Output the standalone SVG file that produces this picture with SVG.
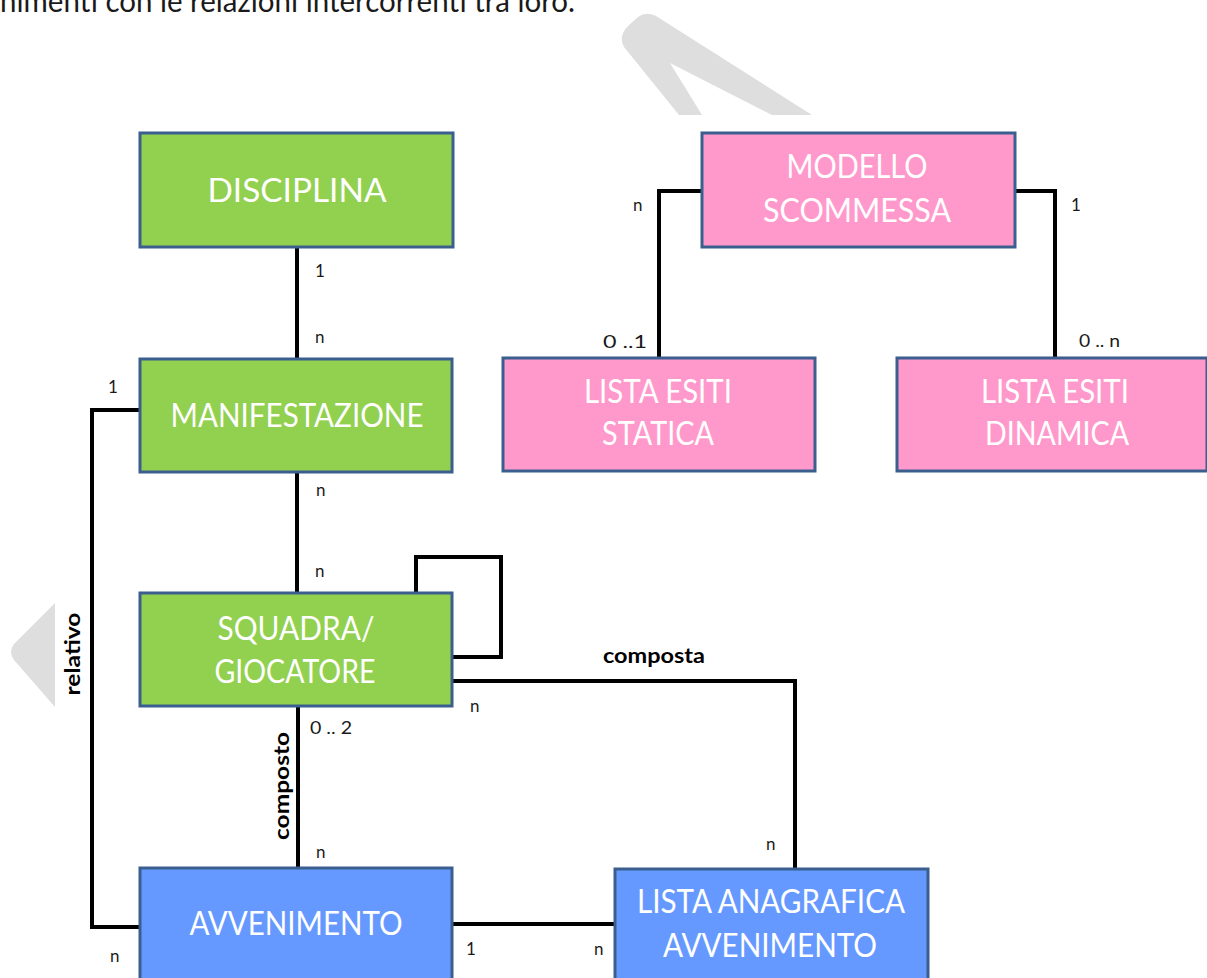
<svg xmlns="http://www.w3.org/2000/svg" width="1207" height="978" viewBox="0 0 1207 978">
<style>
.box{stroke:#3a5f8f;stroke-width:3}
.g{fill:#92d050}
.p{fill:#ff99cc}
.b{fill:#6699ff}
.bt{font-family:Lato,"Open Sans","Liberation Sans",sans-serif;font-size:32px;fill:#ffffff;text-anchor:middle}
.lb{font-family:Lato,"Open Sans","Liberation Sans",sans-serif;font-size:17px;fill:#1a1a1a}
.rl{font-family:Lato,"Open Sans","Liberation Sans",sans-serif;font-size:20px;font-weight:bold;fill:#000000;text-anchor:middle}
.wm{fill:#dedede}
.cn{fill:none;stroke:#000000;stroke-width:4;stroke-linejoin:miter}
.top{font-family:Lato,"Open Sans","Liberation Sans",sans-serif;font-size:31px;fill:#1a1a1a}
</style>
<rect width="1207" height="978" fill="#ffffff"/>
<g id="watermark">
<path class="wm" d="M679,115 L624,47 Q618,36 628,26 L638,17 Q646,11 656,16 L812,115 L772,115 L670,63 L702,115 Z"/>
<path class="wm" d="M55,603 L14,644 Q8,652 14,660 L55,707 Z"/>
</g>
<text class="top" x="0" y="12" textLength="575" lengthAdjust="spacingAndGlyphs">nimenti con le relazioni intercorrenti tra loro.</text>
<g id="connectors">
<path class="cn" d="M297,247 V359"/>
<path class="cn" d="M297,472 V593"/>
<path class="cn" d="M298,706 V868"/>
<path class="cn" d="M140,410 H92 V927 H140"/>
<path class="cn" d="M416,593 V557 H501 V657 H452"/>
<path class="cn" d="M452,681 H795 V869"/>
<path class="cn" d="M452,924 H615"/>
<path class="cn" d="M702,191 H659 V358"/>
<path class="cn" d="M1015,191 H1055 V358"/>
<text class="lb" x="315" y="277">1</text>
<text class="lb" x="315" y="343">n</text>
<text class="lb" x="316" y="496">n</text>
<text class="lb" x="108" y="393">1</text>
<text class="lb" x="315" y="577">n</text>
<text class="lb" x="310" y="734" textLength="42" lengthAdjust="spacingAndGlyphs">0 .. 2</text>
<text class="lb" x="470" y="712">n</text>
<text class="rl" x="654" y="663" textLength="102" lengthAdjust="spacingAndGlyphs">composta</text>
<text class="lb" x="316" y="858">n</text>
<text class="lb" x="766" y="850">n</text>
<text class="lb" x="110" y="962">n</text>
<text class="lb" x="466" y="955">1</text>
<text class="lb" x="594" y="955">n</text>
<text class="lb" x="633" y="211">n</text>
<text class="lb" x="1071" y="211">1</text>
<text class="lb" x="603" y="348" textLength="44" lengthAdjust="spacingAndGlyphs">0 ..1</text>
<text class="lb" x="1079" y="347" textLength="41" lengthAdjust="spacingAndGlyphs">0 .. n</text>
<text class="rl" transform="translate(80,654) rotate(-90)" x="0" y="0" textLength="83" lengthAdjust="spacingAndGlyphs">relativo</text>
<text class="rl" transform="translate(289,786) rotate(-90)" x="0" y="0" textLength="108" lengthAdjust="spacingAndGlyphs">composto</text>
</g>
<g id="disciplina">
<rect class="box g" x="140" y="133" width="313" height="114"/>
<text class="bt" x="297" y="202" textLength="179" lengthAdjust="spacingAndGlyphs">DISCIPLINA</text>
</g>
<g id="manifestazione">
<rect class="box g" x="140" y="359" width="312" height="113"/>
<text class="bt" x="297" y="427" textLength="253" lengthAdjust="spacingAndGlyphs">MANIFESTAZIONE</text>
</g>
<g id="squadra">
<rect class="box g" x="140" y="593" width="312" height="113"/>
<text class="bt" x="296" y="640" textLength="157" lengthAdjust="spacingAndGlyphs">SQUADRA/</text>
<text class="bt" x="295" y="683" textLength="161" lengthAdjust="spacingAndGlyphs">GIOCATORE</text>
</g>
<g id="avvenimento">
<rect class="box b" x="140" y="868" width="312" height="125"/>
<text class="bt" x="296" y="935" textLength="213" lengthAdjust="spacingAndGlyphs">AVVENIMENTO</text>
</g>
<g id="lista-anagrafica">
<rect class="box b" x="615" y="869" width="313" height="125"/>
<text class="bt" x="771" y="913" textLength="268" lengthAdjust="spacingAndGlyphs">LISTA ANAGRAFICA</text>
<text class="bt" x="770" y="957" textLength="214" lengthAdjust="spacingAndGlyphs">AVVENIMENTO</text>
</g>
<g id="modello">
<rect class="box p" x="702" y="133" width="313" height="114"/>
<text class="bt" x="857" y="178" textLength="141" lengthAdjust="spacingAndGlyphs">MODELLO</text>
<text class="bt" x="857" y="222" textLength="188" lengthAdjust="spacingAndGlyphs">SCOMMESSA</text>
</g>
<g id="statica">
<rect class="box p" x="503" y="358" width="312" height="113"/>
<text class="bt" x="658" y="403" textLength="148" lengthAdjust="spacingAndGlyphs">LISTA ESITI</text>
<text class="bt" x="658" y="445" textLength="112" lengthAdjust="spacingAndGlyphs">STATICA</text>
</g>
<g id="dinamica">
<rect class="box p" x="897" y="358" width="310" height="113"/>
<text class="bt" x="1055" y="403" textLength="148" lengthAdjust="spacingAndGlyphs">LISTA ESITI</text>
<text class="bt" x="1057" y="445" textLength="144" lengthAdjust="spacingAndGlyphs">DINAMICA</text>
</g>
</svg>
